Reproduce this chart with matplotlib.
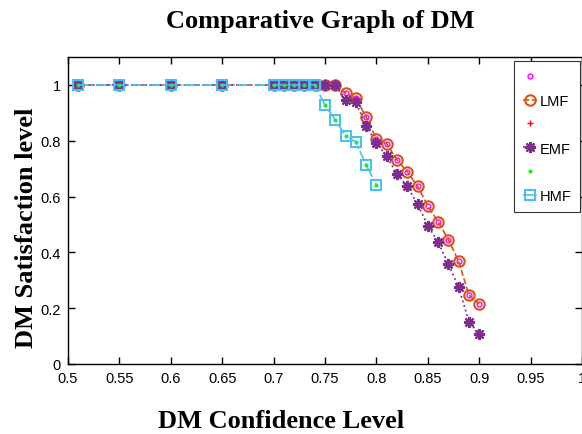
import matplotlib
matplotlib.use("Agg")
import matplotlib.pyplot as plt

# confidence levels
conf_lmf = [0.51, 0.55, 0.6, 0.65, 0.7, 0.71, 0.72, 0.73, 0.74, 0.75, 0.76,
            0.77, 0.78, 0.79, 0.80, 0.81, 0.82, 0.83, 0.84, 0.85, 0.86,
            0.87, 0.88, 0.89, 0.90]
conf_hmf = [0.51, 0.55, 0.6, 0.65, 0.7, 0.71, 0.72, 0.73, 0.74, 0.75, 0.76,
            0.77, 0.78, 0.79, 0.80]

# satisfaction levels
sat_lmf = [1, 1, 1, 1, 1, 1, 1, 1, 1, 1, 1,
           0.971, 0.952, 0.886, 0.806, 0.789, 0.732, 0.689, 0.637, 0.567,
           0.510, 0.446, 0.368, 0.247, 0.215]
sat_emf = [1, 1, 1, 1, 1, 1, 1, 1, 1, 1, 1,
           0.947, 0.938, 0.854, 0.792, 0.744, 0.681, 0.636, 0.573, 0.496,
           0.437, 0.358, 0.275, 0.152, 0.108]
sat_hmf = [1, 1, 1, 1, 1, 1, 1, 1, 1, 0.928, 0.874, 0.818, 0.795, 0.713, 0.642]

xticks = [0.5, 0.55, 0.6, 0.65, 0.7, 0.75, 0.8, 0.85, 0.9, 0.95, 1]
xticklabels = ["0.5", "0.55", "0.6", "0.65", "0.7", "0.75", "0.8", "0.85", "0.9", "0.95", "1"]
yticks = [0, 0.2, 0.4, 0.6, 0.8, 1]
yticklabels = ["0", "0.2", "0.4", "0.6", "0.8", "1"]

tickfont = ["Liberation Sans Narrow", "Liberation Sans", "DejaVu Sans"]
serif = ["Liberation Serif", "DejaVu Serif"]

c_lmf = "#D95319"
c_emf = "#7E2F8E"
c_hmf = "#4DBEEE"

fig = plt.figure(figsize=(5.82, 4.35), dpi=100)
ax = fig.add_axes([68/582, 70/435, 514/582, 307/435])

h1, = ax.plot(conf_lmf, sat_lmf, "o", color="#FF00FF", ms=3.5, mfc="none", mew=1.0)
h2, = ax.plot(conf_lmf, sat_lmf, "--o", color=c_lmf, ms=7.5, mfc="none", mew=1.5, lw=1.2)
h3, = ax.plot(conf_lmf, sat_emf, "+", color="#FF0000", ms=4, mew=1.0)
h4, = ax.plot(conf_lmf, sat_emf, ":", marker=(8, 2, 0), color=c_emf, ms=8, mew=1.6, lw=1.3)
h5, = ax.plot(conf_hmf, sat_hmf, ".", color="#00FF00", ms=4)
h6, = ax.plot(conf_hmf, sat_hmf, "-.s", color=c_hmf, ms=6.5, mfc="none", mew=1.5, lw=1.2)

ax.set_xlim(0.5, 1.0)
ax.set_ylim(0, 1.1)
ax.set_xticks(xticks)
ax.set_xticklabels(xticklabels, family=tickfont, fontsize=10.5)
ax.set_yticks(yticks)
ax.set_yticklabels(yticklabels, family=tickfont, fontsize=10.5)
ax.tick_params(direction="in", top=True, right=True, length=5, width=1, pad=5)
for s in ax.spines.values():
    s.set_linewidth(1.0)

fig.text(0.55, 0.95, "Comparative Graph of DM", family=serif, weight="bold",
         fontsize=19, ha="center", va="center")
fig.text(0.483, 0.032, "DM Confidence Level", family=serif, weight="bold",
         fontsize=19, ha="center", va="center")
fig.text(0.045, 0.476, "DM Satisfaction level", family=serif, weight="bold",
         fontsize=19, ha="center", va="center", rotation=90)

leg = ax.legend([h1, h2, h3, h4, h5, h6], ["", "LMF", "", "EMF", "", "HMF"],
                loc="upper right", bbox_to_anchor=(580/582, 1 - 62/435),
                bbox_transform=fig.transFigure, fancybox=False, framealpha=1,
                edgecolor="#333333", handlelength=1.0, handletextpad=0.15,
                borderpad=0.6, labelspacing=0.68, borderaxespad=0,
                prop={"family": tickfont, "size": 10.5})
leg.get_frame().set_linewidth(0.8)

fig.savefig("out.png", dpi=100)
